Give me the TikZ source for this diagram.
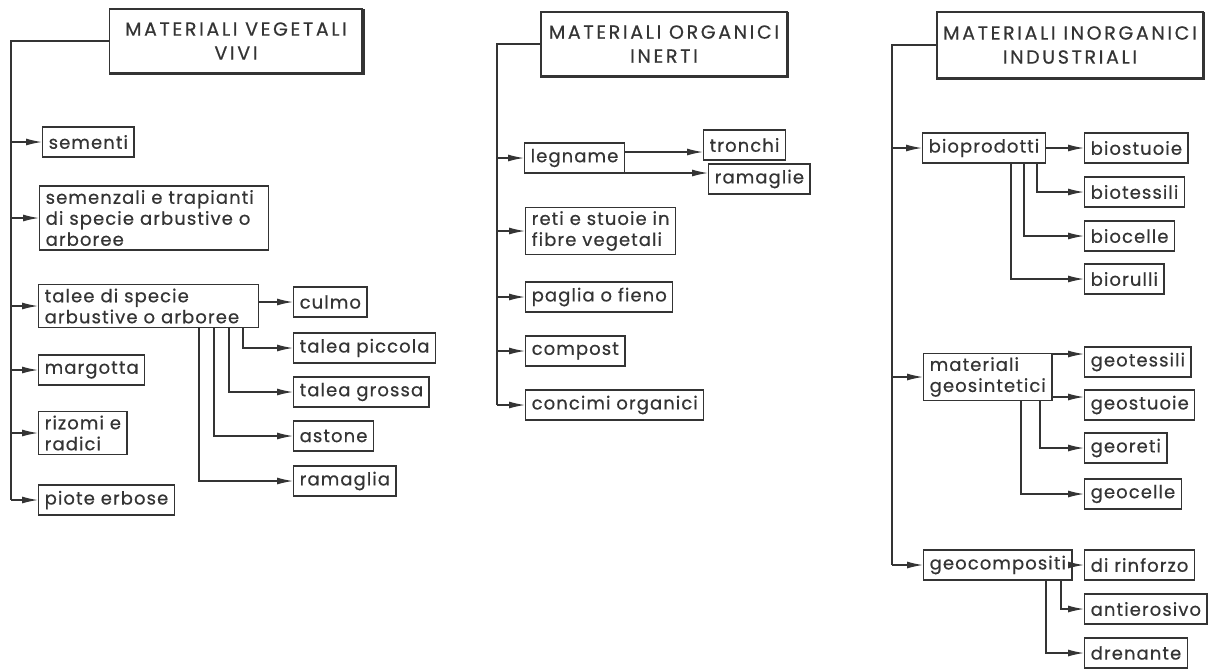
\documentclass[tikz,border=0pt]{standalone}
\usepackage{fontspec}
\setmainfont{Poppins}[FakeBold=0.5]
\usepackage{xcolor}
\definecolor{inkgray}{RGB}{52,52,52}
\usetikzlibrary{positioning,arrows.meta,calc}

\begin{document}
\begin{tikzpicture}[
  x=1pt, y=-1pt,
  font=\fontsize{18}{21}\selectfont\addfontfeatures{LetterSpace=6},
  leaf/.style={draw=inkgray, text=inkgray, line width=1.4pt, align=left, inner xsep=6pt, inner ysep=4pt, minimum height=30pt, anchor=west},
  head/.style={draw=inkgray, text=inkgray, line width=1.4pt, align=center, font=\fontsize{19}{24}\selectfont\addfontfeatures{LetterSpace=14}},
  shadowline/.style={inkgray, line width=3.5pt},
  link/.style={inkgray, line width=1.3pt},
  arrow/.style={link, -{Latex[length=16pt, width=7pt]}}]
  \useasboundingbox[fill=white] (0,0) rectangle (1208,670);

  % materiali vegetali vivi
  \node[head, minimum width=253pt, minimum height=64pt] (vivi) at (236,41) {MATERIALI VEGETALI\\VIVI};
  \node[leaf] (sementi) at (42,142) {sementi};
  \node[leaf, text width=217pt] (semenzali) at (39,218) {semenzali e trapianti\\di specie arbustive o\\arboree};
  \node[leaf, text width=208pt] (talee) at (38,306) {talee di specie\\arbustive o arboree};
  \node[leaf] (culmo) at (293,302) {culmo};
  \node[leaf] (piccola) at (293,348) {talea piccola};
  \node[leaf] (grossa) at (293,392) {talea grossa};
  \node[leaf] (astone) at (293,436) {astone};
  \node[leaf] (ramaglia) at (293,481) {ramaglia};
  \node[leaf] (margotta) at (38,370) {margotta};
  \node[leaf] (rizomi) at (38,433) {rizomi e\\radici};
  \node[leaf] (piote) at (38,500) {piote erbose};
  \coordinate (vivitrunk) at (11,500);
  \draw[link] (vivi.west) -| (vivitrunk);
  \foreach \n in {sementi,semenzali,talee,margotta,rizomi,piote}
    \draw[arrow] (vivitrunk |- \n.west) -- (\n.west);
  \draw[arrow] (talee.east |- culmo.west) -- (culmo.west);
  \draw[arrow] ([xshift=205pt]talee.south west) |- (piccola.west);
  \draw[arrow] ([xshift=191pt]talee.south west) |- (grossa.west);
  \draw[arrow] ([xshift=176pt]talee.south west) |- (astone.west);
  \draw[arrow] ([xshift=161pt]talee.south west) |- (ramaglia.west);

  % materiali organici inerti
  \node[head, minimum width=246pt, minimum height=64pt] (inerti) at (664,44) {MATERIALI ORGANICI\\INERTI};
  \node[leaf] (legname) at (524,158) {legname};
  \node[leaf] (tronchi) at (703,145) {tronchi};
  \node[leaf] (ramaglie) at (708,179) {ramaglie};
  \node[leaf] (reti) at (525,231) {reti e stuoie in\\fibre vegetali};
  \node[leaf] (paglia) at (525,297) {paglia o fieno};
  \node[leaf] (compost) at (525,351) {compost};
  \node[leaf] (concimi) at (525,405) {concimi organici};
  \coordinate (inertitrunk) at (497,405);
  \draw[link] (inerti.west) -| (inertitrunk);
  \foreach \n in {legname,reti,paglia,compost,concimi}
    \draw[arrow] (inertitrunk |- \n.west) -- (\n.west);
  \draw[arrow] ([yshift=-7pt]tronchi.west -| legname.east) -- ([yshift=-7pt]tronchi.west);
  \draw[arrow] ([yshift=6pt]ramaglie.west -| legname.east) -- ([yshift=6pt]ramaglie.west);

  % materiali inorganici industriali
  \node[head, minimum width=266pt, minimum height=66pt] (indus) at (1070,45) {MATERIALI INORGANICI\\INDUSTRIALI};
  \node[leaf] (bioprod) at (922,148) {bioprodotti};
  \node[leaf] (biostuoie) at (1084,148) {biostuoie};
  \node[leaf] (biotessili) at (1084,192) {biotessili};
  \node[leaf] (biocelle) at (1084,236) {biocelle};
  \node[leaf] (biorulli) at (1084,279) {biorulli};
  \node[leaf] (geosint) at (923,377) {materiali\\geosintetici};
  \node[leaf] (geotessili) at (1084,362) {geotessili};
  \node[leaf] (geostuoie) at (1084,405) {geostuoie};
  \node[leaf] (georeti) at (1084,448) {georeti};
  \node[leaf] (geocelle) at (1084,494) {geocelle};
  \node[leaf] (geocomp) at (923,565) {geocompositi};
  \node[leaf] (rinforzo) at (1084,565) {di rinforzo};
  \node[leaf] (antieros) at (1084,609) {antierosivo};
  \node[leaf] (drenante) at (1084,653) {drenante};
  \coordinate (industrunk) at (892,565);
  \draw[link] (indus.west) -| (industrunk);
  \foreach \n in {bioprod,geosint,geocomp}
    \draw[arrow] (industrunk |- \n.west) -- (\n.west);
  \draw[arrow] (bioprod.east) -- (biostuoie.west);
  \draw[arrow] ([xshift=115pt]bioprod.south west) |- (biotessili.west);
  \draw[arrow] ([xshift=102pt]bioprod.south west) |- (biocelle.west);
  \draw[arrow] ([xshift=89pt]bioprod.south west) |- (biorulli.west);
  \draw[arrow] ([yshift=8pt]geotessili.west -| geosint.east) -- ([yshift=8pt]geotessili.west);
  \draw[arrow] ([yshift=8pt]geostuoie.west -| geosint.east) -- ([yshift=8pt]geostuoie.west);
  \draw[arrow] ([xshift=117pt]geosint.south west) |- (georeti.west);
  \draw[arrow] ([xshift=98pt]geosint.south west) |- (geocelle.west);
  \draw[arrow] (geocomp.east) -- (rinforzo.west);
  \draw[arrow] ([xshift=138pt]geocomp.south west) |- (antieros.west);
  \draw[arrow] ([xshift=123pt]geocomp.south west) |- (drenante.west);

  % shadowed headers
  \foreach \h in {vivi,inerti,indus}
    \draw[shadowline] ([yshift=-1pt]\h.north east) -- (\h.south east) -- (\h.south west);
\end{tikzpicture}
\end{document}
